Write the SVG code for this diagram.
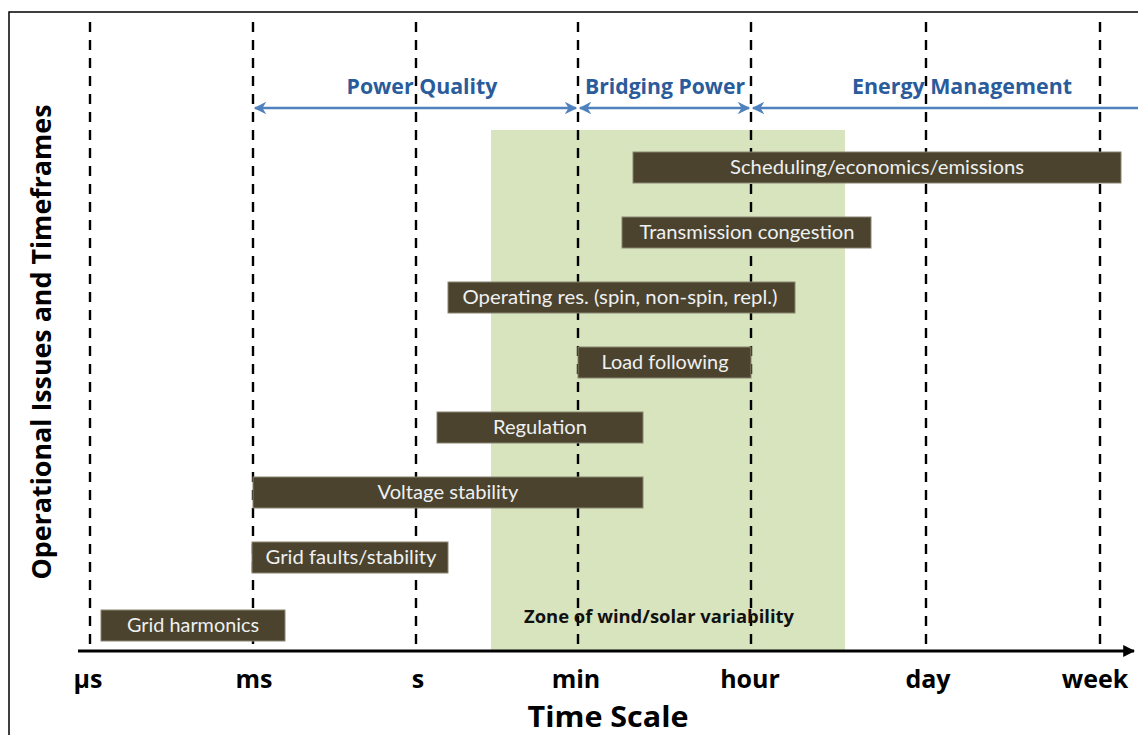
<svg xmlns="http://www.w3.org/2000/svg" width="1138" height="735" viewBox="0 0 1138 735">
  <defs>
    <style>
      .grid { stroke: #000; stroke-width: 2.4; stroke-dasharray: 10 8; fill: none; }
      .bar rect { fill: #4b432d; stroke: #8a8573; stroke-width: 1; }
      .bar text { font-family: Lato, "Open Sans", sans-serif; font-size: 18.5px; fill: #eef0f2; text-anchor: middle; }
      .band { font-family: "Open Sans", Lato, sans-serif; font-weight: bold; font-size: 20.5px; fill: #2a5b9b; text-anchor: middle; }
      .span { stroke: #4f81bd; stroke-width: 2.5; fill: none; }
      .tick { font-family: "Open Sans", Lato, sans-serif; font-weight: bold; font-size: 25px; fill: #000; text-anchor: middle; }
    </style>
    <marker id="blueHead" viewBox="0 0 10 10" refX="9" refY="5" markerWidth="5" markerHeight="5" orient="auto-start-reverse">
      <path d="M0,0 L10,5 L0,10 L3,5 Z" fill="#4f81bd"/>
    </marker>
    <marker id="axisHead" viewBox="0 0 10 10" refX="9" refY="5" markerWidth="4" markerHeight="4" orient="auto">
      <path d="M0,0 L10,5 L0,10 Z" fill="#000"/>
    </marker>
  </defs>

  <rect width="1138" height="735" fill="#fff"/>
  <!-- outer frame -->
  <rect x="9" y="12" width="1160" height="760" fill="none" stroke="#000" stroke-width="1.5"/>

  <!-- zone of wind/solar variability -->
  <g id="zone">
    <rect x="491" y="130" width="354" height="520" fill="#d7e4bd"/>
  </g>

  <!-- time scale gridlines -->
  <g id="gridlines">
    <line class="grid" x1="90" y1="22" x2="90" y2="650"/>
    <line class="grid" x1="253" y1="22" x2="253" y2="650"/>
    <line class="grid" x1="416" y1="22" x2="416" y2="650"/>
    <line class="grid" x1="578" y1="22" x2="578" y2="650"/>
    <line class="grid" x1="751" y1="22" x2="751" y2="650"/>
    <line class="grid" x1="926" y1="22" x2="926" y2="650"/>
    <line class="grid" x1="1100" y1="22" x2="1100" y2="650"/>
  </g>

  <text x="659" y="623" font-family="'Open Sans', Lato, sans-serif" font-weight="bold" font-size="17" text-anchor="middle" fill="#111" textLength="270" lengthAdjust="spacingAndGlyphs">Zone of wind/solar variability</text>

  <!-- band connectors -->
  <g id="connectors">
    <line class="span" x1="255" y1="108" x2="576" y2="108" marker-start="url(#blueHead)" marker-end="url(#blueHead)"/>
    <line class="span" x1="580" y1="108" x2="749" y2="108" marker-start="url(#blueHead)" marker-end="url(#blueHead)"/>
    <line class="span" x1="753" y1="108" x2="1140" y2="108" marker-start="url(#blueHead)"/>
    <line x1="78" y1="651" x2="1134" y2="651" stroke="#000" stroke-width="3" marker-end="url(#axisHead)"/>
  </g>

  <g id="band-labels">
    <text class="band" x="422" y="94" textLength="151" lengthAdjust="spacingAndGlyphs">Power Quality</text>
    <text class="band" x="665" y="94" textLength="160" lengthAdjust="spacingAndGlyphs">Bridging Power</text>
    <text class="band" x="962" y="94" textLength="220" lengthAdjust="spacingAndGlyphs">Energy Management</text>
  </g>

  <!-- operational issue bars -->
  <g id="scheduling" class="bar"><rect x="633" y="152" width="488" height="31"/><text x="877" y="174" textLength="294" lengthAdjust="spacingAndGlyphs">Scheduling/economics/emissions</text></g>
  <g id="transmission" class="bar"><rect x="622" y="217" width="249" height="31"/><text x="747" y="239" textLength="215" lengthAdjust="spacingAndGlyphs">Transmission congestion</text></g>
  <g id="operating-reserves" class="bar"><rect x="448" y="282" width="347" height="31"/><text x="620" y="304" textLength="315" lengthAdjust="spacingAndGlyphs">Operating res. (spin, non-spin, repl.)</text></g>
  <g id="load-following" class="bar"><rect x="578" y="347" width="173" height="31"/><text x="665" y="369" textLength="127" lengthAdjust="spacingAndGlyphs">Load following</text></g>
  <g id="regulation" class="bar"><rect x="437" y="412" width="206" height="31"/><text x="540" y="434" textLength="94" lengthAdjust="spacingAndGlyphs">Regulation</text></g>
  <g id="voltage-stability" class="bar"><rect x="253" y="477" width="390" height="31"/><text x="448" y="499" textLength="141" lengthAdjust="spacingAndGlyphs">Voltage stability</text></g>
  <g id="grid-faults" class="bar"><rect x="252" y="542" width="196" height="31"/><text x="351" y="564" textLength="171" lengthAdjust="spacingAndGlyphs">Grid faults/stability</text></g>
  <g id="grid-harmonics" class="bar"><rect x="101" y="610" width="184" height="31"/><text x="193" y="632" textLength="132" lengthAdjust="spacingAndGlyphs">Grid harmonics</text></g>

  <!-- axis labels -->
  <g id="ticks">
    <text class="tick" x="88" y="688">µs</text>
    <text class="tick" x="254" y="688">ms</text>
    <text class="tick" x="418" y="688">s</text>
    <text class="tick" x="576" y="688">min</text>
    <text class="tick" x="750" y="688">hour</text>
    <text class="tick" x="928" y="688">day</text>
    <text class="tick" x="1095" y="688">week</text>
  </g>
  <text x="608" y="727" font-family="'Open Sans', Lato, sans-serif" font-weight="bold" font-size="28" text-anchor="middle" fill="#000" textLength="161" lengthAdjust="spacingAndGlyphs">Time Scale</text>
  <text transform="translate(51,342) rotate(-90)" font-family="'Open Sans', Lato, sans-serif" font-weight="bold" font-size="26" text-anchor="middle" fill="#000" textLength="475" lengthAdjust="spacingAndGlyphs">Operational Issues and Timeframes</text>
</svg>
